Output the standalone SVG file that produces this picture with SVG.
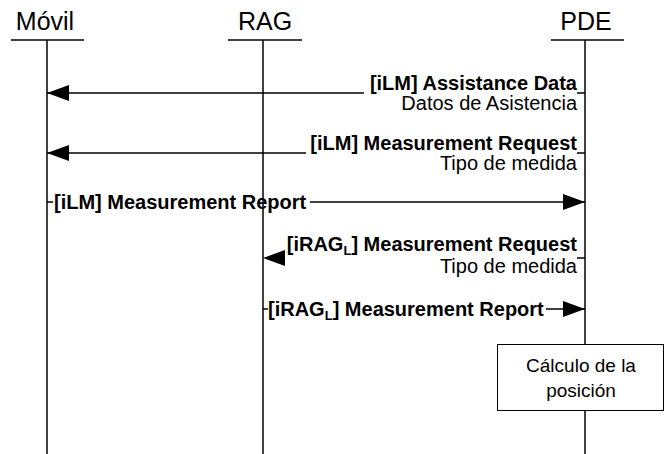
<svg xmlns="http://www.w3.org/2000/svg" width="665" height="454" viewBox="0 0 665 454">
<style>
.hd{font-family:"Liberation Sans",Arial,sans-serif;font-size:25px;fill:#000;text-anchor:middle}
.b{font-family:"Liberation Sans",Arial,sans-serif;font-size:20px;font-weight:bold;fill:#000}
.r{font-family:"Liberation Sans",Arial,sans-serif;font-size:20px;fill:#000}
.bx{font-family:"Liberation Sans",Arial,sans-serif;font-size:19px;fill:#000;text-anchor:middle}
.ln{stroke:#000;stroke-width:1.5;fill:none}
.sub{font-size:13px}
</style>
<defs>
<marker id="ah" markerWidth="22" markerHeight="16" refX="22" refY="8" orient="auto" markerUnits="userSpaceOnUse"><path d="M0,0 L22,8 L0,16 Z" fill="#000"/></marker>
</defs>
<rect width="665" height="454" fill="#fff"/>
<g id="movil"><text class="hd" x="45" y="30">Móvil</text><line class="ln" x1="11" y1="40" x2="84" y2="40"/><line class="ln" x1="47" y1="40" x2="47" y2="454"/></g>
<g id="rag"><text class="hd" x="265" y="30">RAG</text><line class="ln" x1="228" y1="40" x2="302" y2="40"/><line class="ln" x1="263" y1="40" x2="263" y2="454"/></g>
<g id="pde"><text class="hd" x="586" y="30">PDE</text><line class="ln" x1="551" y1="40" x2="624" y2="40"/><line class="ln" x1="585" y1="40" x2="585" y2="344"/><line class="ln" x1="585" y1="410" x2="585" y2="454"/></g>
<g id="calc"><rect x="497.5" y="344.5" width="166" height="66" fill="#fff" stroke="#000" stroke-width="1"/><text class="bx" x="581" y="372">Cálculo de la</text><text class="bx" x="581" y="397">posición</text></g>
<g id="connectors">
<line class="ln" x1="364" y1="93" x2="47" y2="93" marker-end="url(#ah)"/><line class="ln" x1="577" y1="93" x2="585" y2="93"/>
<text class="b" x="577" y="90" text-anchor="end">[iLM] Assistance Data</text>
<text class="r" x="577" y="110" text-anchor="end">Datos de Asistencia</text>
<line class="ln" x1="306" y1="153" x2="47" y2="153" marker-end="url(#ah)"/><line class="ln" x1="577" y1="153" x2="585" y2="153"/>
<text class="b" x="577" y="150" text-anchor="end">[iLM] Measurement Request</text>
<text class="r" x="577" y="170" text-anchor="end">Tipo de medida</text>
<line class="ln" x1="47" y1="202" x2="53" y2="202"/><line class="ln" x1="310" y1="202" x2="585" y2="202" marker-end="url(#ah)"/>
<text class="b" x="54" y="209">[iLM] Measurement Report</text>
<path d="M285,250 L263,258 L285,266 Z" fill="#000"/><line class="ln" x1="577" y1="258" x2="585" y2="258"/>
<text class="b" x="577" y="251" text-anchor="end">[iRAG<tspan class="sub" dy="4">L</tspan><tspan dy="-4">] Measurement Request</tspan></text>
<text class="r" x="577" y="273" text-anchor="end">Tipo de medida</text>
<line class="ln" x1="263" y1="309" x2="268" y2="309"/><line class="ln" x1="546" y1="309" x2="585" y2="309" marker-end="url(#ah)"/>
<text class="b" x="268" y="316">[iRAG<tspan class="sub" dy="4">L</tspan><tspan dy="-4">] Measurement Report</tspan></text>
</g>
</svg>
